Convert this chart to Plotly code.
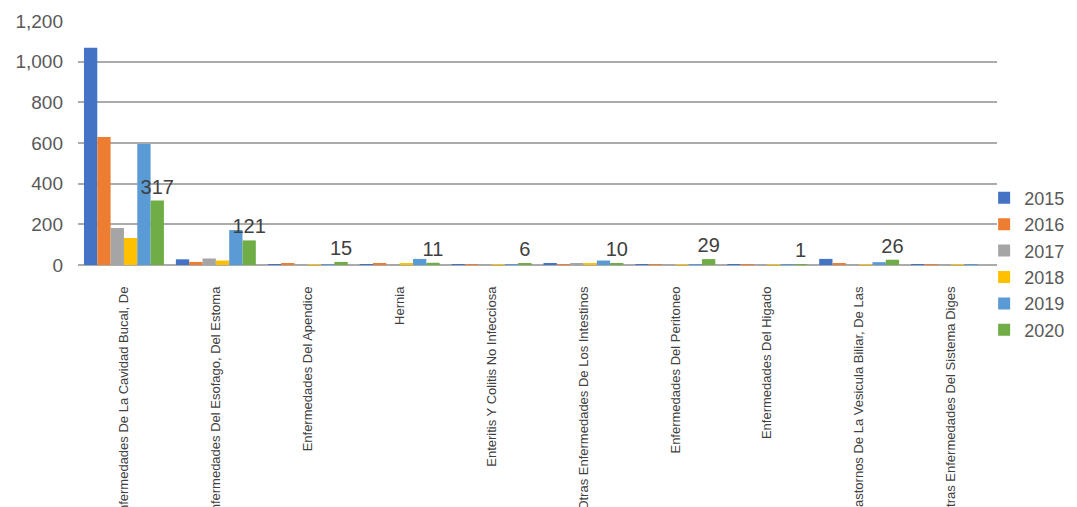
import plotly.graph_objects as go

categories = [
    "Enfermedades De La Cavidad Bucal, De",
    "Enfermedades Del Esofago, Del Estoma",
    "Enfermedades Del Apendice",
    "Hernia",
    "Enteritis Y Colitis No Infecciosa",
    "Otras Enfermedades De Los Intestinos",
    "Enfermedades Del Peritoneo",
    "Enfermedades Del Higado",
    "Trastornos De La Vesicula Biliar, De Las",
    "Otras Enfermedades Del Sistema Diges",
]

years = ["2015", "2016", "2017", "2018", "2019", "2020"]

v2015 = [1069, 28, 2, 3, 1, 10, 1, 1, 30, 1]
v2016 = [629, 15, 6, 7, 1, 3, 4, 1, 5, 1]
v2017 = [182, 32, 3, 2, 3, 5, 2, 3, 3, 2]
v2018 = [133, 22, 2, 8, 2, 7, 1, 2, 4, 1]
v2019 = [595, 172, 2, 30, 4, 22, 1, 1, 14, 1]
v2020 = [317, 121, 15, 11, 6, 10, 29, 1, 26, None]

series = [v2015, v2016, v2017, v2018, v2019, v2020]
colors = ["#4472C4", "#ED7D31", "#A5A5A5", "#FFC000", "#5B9BD5", "#70AD47"]

FONT = "Liberation Sans, Arial, sans-serif"

fig = go.Figure()
for year, vals, col in zip(years, series, colors):
    kw = {}
    if year == "2020":
        kw = dict(
            text=[("" if v is None else str(v)) for v in vals],
            textposition="outside",
            textfont=dict(size=20, color="#404040", family=FONT),
            cliponaxis=False,
            constraintext="none",
        )
    fig.add_trace(go.Bar(x=categories, y=vals, name=year, marker_color=col,
                         marker_line_width=0, **kw))

fig.update_layout(
    width=1077, height=507,
    barmode="group", bargap=0.13, bargroupgap=0,
    plot_bgcolor="white", paper_bgcolor="white",
    margin=dict(l=70, r=88, t=13, b=250, autoexpand=False),
    font=dict(family=FONT, color="#595959"),
    showlegend=True,
    legend=dict(x=0.986, xanchor="left", y=0.35, yanchor="top",
                font=dict(size=18, color="#595959"),
                tracegroupgap=0, itemwidth=30,
                bgcolor="rgba(0,0,0,0)"),
)
fig.update_xaxes(
    tickangle=-90,
    tickfont=dict(size=13, color="#404040"),
    showgrid=False,
    showline=False,
    ticks="",
    ticklabelstandoff=18,
    automargin=False,
)
fig.update_yaxes(
    range=[0, 1200], dtick=200, tickformat=",",
    tickfont=dict(size=19, color="#595959"),
    showgrid=True, gridcolor="#ABABAB", gridwidth=2,
    zeroline=True, zerolinecolor="#ABABAB", zerolinewidth=2,
    showline=False, ticks="",
    ticklabelstandoff=14,
    automargin=False,
)

fig.write_html("out.html")
